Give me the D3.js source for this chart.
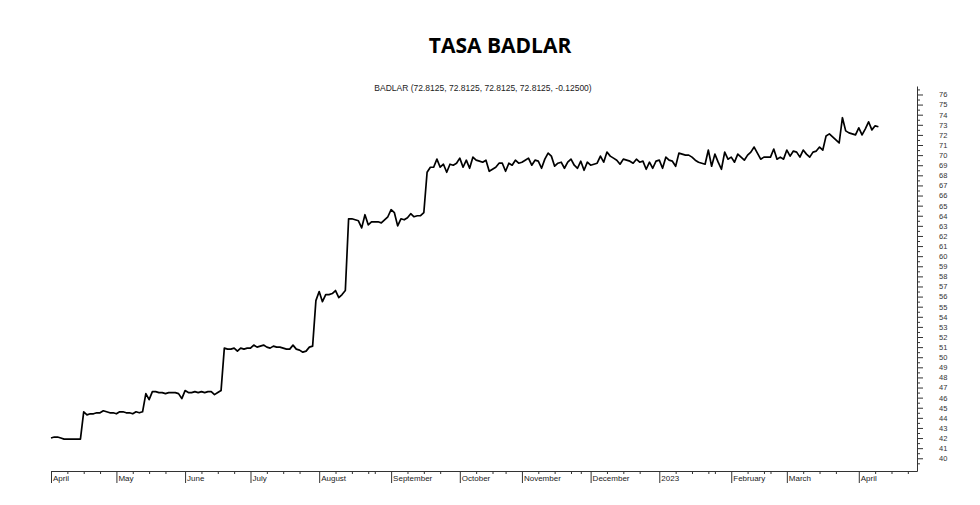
<!DOCTYPE html>
<html>
<head>
<meta charset="utf-8">
<script src="https://cdn.jsdelivr.net/npm/d3@7"></script>
<style>
  html, body { margin: 0; padding: 0; background: #fff; }
  svg { display: block; }
</style>
</head>
<body>
<svg id="chart" width="980" height="505"></svg>
<script>
// ---- Data (trading-day series, April 2022 – April 2023) ----
const chartTitle = "TASA BADLAR";
const legendText = "BADLAR (72.8125, 72.8125, 72.8125, 72.8125, -0.12500)";

const badlar = [
  42.0, 42.1, 42.1, 42.0, 41.9, 41.9, 41.9, 41.9, 41.9, 41.9,
  44.6, 44.3, 44.4, 44.4, 44.5, 44.5, 44.7, 44.6, 44.5, 44.5, 44.4, 44.6, 44.6, 44.5, 44.5, 44.4, 44.6, 44.5, 44.6,
  46.4, 45.8, 46.6, 46.6, 46.5, 46.5, 46.4, 46.5, 46.5, 46.5, 46.4, 45.9, 46.7, 46.5, 46.5, 46.6, 46.5, 46.6, 46.5, 46.6, 46.6, 46.3, 46.5, 46.7,
  50.9, 50.8, 50.8, 50.9, 50.6, 50.9, 50.8, 50.9, 50.9, 51.2, 51.0, 51.1, 51.2, 51.0, 50.9, 51.1, 51.0, 51.0, 50.9, 50.8, 50.8, 51.2, 50.8, 50.7, 50.5, 50.6, 51.0, 51.1,
  55.6, 56.5, 55.5, 56.2, 56.2, 56.3, 56.6, 55.9, 56.2, 56.6,
  63.7, 63.7, 63.6, 63.5, 62.8, 64.1, 63.1, 63.4, 63.4, 63.4, 63.3, 63.6, 63.9, 64.6, 64.3, 63.0, 63.7, 63.6, 63.8, 64.2, 63.9, 64.0, 64.0, 64.3,
  68.3, 68.8, 68.8, 69.6, 68.8, 69.1, 68.3,
  69.1, 69.0, 69.2, 69.7, 68.8, 69.5, 68.7, 69.8, 69.5, 69.4, 69.3, 69.5, 68.4, 68.6, 68.8, 69.2, 69.2, 68.4, 69.2, 69.0, 69.5, 69.2,
  69.3, 69.5, 69.7, 69.0, 69.5, 69.4, 68.7, 69.6, 70.2, 69.9, 68.9, 69.2, 69.3, 68.7, 69.3, 69.6, 69.0, 68.7, 69.4, 68.5, 69.3, 69.0,
  69.1, 69.2, 69.9, 69.3, 70.3, 69.9, 69.7, 69.5, 69.1, 69.6, 69.5, 69.4, 69.2, 69.6, 69.3, 69.4, 68.6, 69.3, 68.7, 69.4, 69.5, 68.7,
  69.8, 69.5, 69.4, 68.9, 70.2, 70.1, 70.0, 70.0, 69.8, 69.5, 69.3, 69.2, 69.1, 70.5, 68.9, 70.1, 69.3, 68.6, 70.3, 69.6, 69.8, 69.3,
  70.1, 69.8, 69.5, 70.0, 70.3, 70.8, 70.2, 69.6, 69.8, 69.8, 69.8, 70.6, 69.6, 69.8, 69.6, 70.5, 69.9, 70.4, 70.3, 69.8, 70.5, 70.1,
  69.8, 70.3, 70.4, 70.8, 70.5, 71.9, 72.1, 71.8, 71.5, 71.2, 73.7, 72.4, 72.2, 72.1, 72.0, 72.7, 72.0, 72.6, 73.3, 72.5, 72.9, 72.8125
];

// month labels and the trading-day index where each month starts
const monthLabels = ["April", "May", "June", "July", "August", "September", "October",
                     "November", "December", "2023", "February", "March", "April"];
const monthStart  = [0, 20, 41, 61, 82, 104, 125, 144, 165, 186, 208, 225, 247];

// weekly (minor) tick positions, trading-day index
const weekTicks = [5, 10, 15, 25, 30, 35, 46, 51, 56, 66, 71, 76, 87, 92, 97, 99,
                   109, 114, 119, 130, 135, 139, 149, 154, 159, 162, 170, 175, 180,
                   191, 196, 201, 203, 213, 218, 220, 230, 235, 240, 252, 257, 262];

// y axis labels
const yLabels = d3.range(40, 77);          // 40 .. 76
const yMinor  = d3.range(39.5, 77, 1);     // half-unit ticks

// ---- Layout ----
const svg = d3.select("#chart");
const x = d3.scaleLinear().domain([0, 264.8]).range([51, 917]);
const y = d3.scaleLinear().domain([38.74, 76.84]).range([471, 86]);

// title
svg.append("text")
  .attr("x", 500).attr("y", 53)
  .attr("text-anchor", "middle")
  .style("font-family", "'Open Sans', sans-serif")
  .style("font-weight", 700)
  .style("font-size", "21px")
  .attr("fill", "#000")
  .text(chartTitle);

// legend text
svg.append("text")
  .attr("x", 483).attr("y", 90.5)
  .attr("text-anchor", "middle")
  .style("font-family", "'Liberation Sans', Arial, sans-serif")
  .style("font-size", "8.5px")
  .attr("fill", "#222")
  .text(legendText);

// ---- X axis ----
const xMinorAxis = d3.axisBottom(x).tickValues(weekTicks).tickSize(3).tickSizeOuter(0).tickFormat("");
const gxm = svg.append("g").attr("transform", "translate(0,471)").call(xMinorAxis);
gxm.select(".domain").attr("stroke", "#333").attr("stroke-width", 1);
gxm.selectAll(".tick line").attr("stroke", "#333");

const xAxis = d3.axisBottom(x).tickValues(monthStart).tickSize(12).tickSizeOuter(0)
  .tickFormat((d, i) => monthLabels[i]);
const gx = svg.append("g").attr("transform", "translate(0,471)").call(xAxis);
gx.select(".domain").remove();
gx.selectAll(".tick line").attr("stroke", "#333");
gx.selectAll(".tick text")
  .attr("x", 1.5).attr("y", 4).attr("dy", "0.71em")
  .attr("text-anchor", "start")
  .style("font-family", "'Liberation Sans', Arial, sans-serif")
  .style("font-size", "8px")
  .attr("fill", "#222");

// ---- Y axis (right) ----
const yMinorAxis = d3.axisRight(y).tickValues(yMinor).tickSize(3).tickSizeOuter(0).tickFormat("");
const gym = svg.append("g").attr("transform", "translate(917,0)").call(yMinorAxis);
gym.select(".domain").attr("stroke", "#333").attr("stroke-width", 1);
gym.selectAll(".tick line").attr("stroke", "#333");

const yAxis = d3.axisRight(y).tickValues(yLabels).tickSize(6).tickSizeOuter(0).tickFormat(d3.format("d"));
const gy = svg.append("g").attr("transform", "translate(917,0)").call(yAxis);
gy.select(".domain").remove();
gy.selectAll(".tick line").attr("stroke", "#333");
gy.selectAll(".tick text")
  .attr("x", 22)
  .attr("text-anchor", "start")
  .style("font-family", "'Liberation Sans', Arial, sans-serif")
  .style("font-size", "7.5px")
  .attr("fill", "#333");

// ---- Line ----
const line = d3.line()
  .x((d, i) => x(i))
  .y(d => y(d));

svg.append("path")
  .datum(badlar)
  .attr("fill", "none")
  .attr("stroke", "#000")
  .attr("stroke-width", 1.7)
  .attr("stroke-linejoin", "round")
  .attr("d", line);
</script>
</body>
</html>
